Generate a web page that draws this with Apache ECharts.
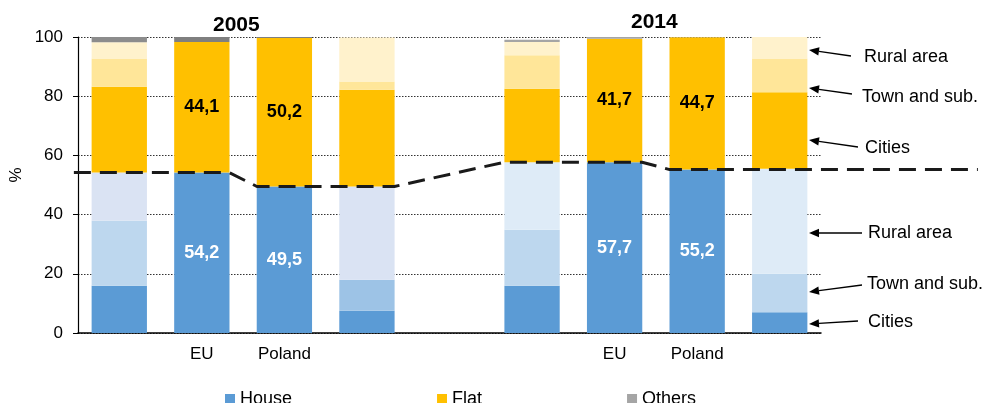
<!DOCTYPE html>
<html lang="en" style="height: 100%">
<head>
  <meta charset="utf-8">
</head>
<body style="height: 100%; margin: 0">
  <div id="container" style="width: 987px; height: 403px"></div>

  <script type="text/javascript" src="https://cdn.jsdelivr.net/npm/echarts@6/dist/echarts.min.js"></script>

  <script type="text/javascript">
    var dom = document.getElementById('container');
    var myChart = echarts.init(dom, null, { renderer: 'canvas' });
    var option;

// bars: EU by urbanisation, EU, Poland, Poland by urbanisation (2005), gap, same for 2014
const categories = ['EU05u', 'EU05', 'PL05', 'PL05u', 'gap', 'EU14u', 'EU14', 'PL14', 'PL14u'];
const tickLabels = ['', 'EU', 'Poland', '', '', '', 'EU', 'Poland', ''];
const labelled = [1, 2, 6, 7];

const houseCities = [16.0, 54.2, 49.5, 7.5, 0, 16.0, 57.7, 55.2, 7.0];
const houseTown = [21.9, 0, 0, 10.5, 0, 18.9, 0, 0, 13.0];
const houseRural = [16.3, 0, 0, 31.5, 0, 22.8, 0, 0, 35.5];
const flatCities = [29.0, 44.1, 50.2, 32.7, 0, 24.8, 41.7, 44.7, 25.8];
const flatTown = [9.5, 0, 0, 2.8, 0, 11.3, 0, 0, 11.4];
const flatRural = [5.5, 0, 0, 14.8, 0, 4.5, 0, 0, 7.3];
const others = [1.8, 1.7, 0.3, 0, 0, 0.8, 0.6, 0.1, 0];

// dashed reference line: house share of EU / Poland, spanning the pair of bars
const houseShare = [54.2, 49.5, 57.7, 55.2];
const houseShareBars = [[0, 1], [2, 3], [5, 6], [7, 8]];

const townColors = ['#BDD7EE', null, null, '#9DC3E6', null, '#BDD7EE', null, null, '#BDD7EE'];
const ruralColors = ['#DAE3F3', null, null, '#DAE3F3', null, '#DEEBF7', null, null, '#DEEBF7'];
const otherColors = ['#8C8C8C', '#7F7F7F', '#7F7F7F', null, null, '#A5A5A5', '#A5A5A5', '#A5A5A5', null];

const FONT = '"Liberation Sans", Arial, sans-serif';
const halfBar = 0.333;

// plot area (px) and the wider strip the dashed line runs through
const GRID = { left: 78, right: 166, top: 37, bottom: 70 };
const catWidth = (987 - GRID.left - GRID.right) / categories.length;
const lineMin = -GRID.left / catWidth - 0.5;
const lineMax = (987 - GRID.left) / catWidth - 0.5;

const fmt = (v) => v.toFixed(1).replace('.', ',');

const withColors = (values, colors) =>
  values.map((v, i) => (colors[i] ? { value: v, itemStyle: { color: colors[i] } } : v));

const withLabels = (values, color) =>
  values.map((v, i) =>
    labelled.indexOf(i) >= 0
      ? {
          value: v,
          label: {
            show: true,
            position: 'inside',
            formatter: (p) => fmt(p.value),
            color: color,
            fontFamily: FONT,
            fontWeight: 'bold',
            fontSize: 18
          }
        }
      : v
  );

const linePoints = [];
houseShareBars.forEach((pair, k) => {
  linePoints.push([pair[0] - halfBar, houseShare[k]]);
  linePoints.push([pair[1] + halfBar, houseShare[k]]);
});
linePoints[0][0] = -0.55;
linePoints[linePoints.length - 1][0] = 10.4;

const arrow = (tail, tip) => {
  const dx = tip[0] - tail[0];
  const dy = tip[1] - tail[1];
  const len = Math.hypot(dx, dy);
  const ux = dx / len, uy = dy / len;
  const L = 10, W = 4.2;
  const bx = tip[0] - ux * L, by = tip[1] - uy * L;
  return [
    {
      type: 'line',
      shape: { x1: tail[0], y1: tail[1], x2: bx, y2: by },
      style: { stroke: '#000', lineWidth: 1.3 }
    },
    {
      type: 'polygon',
      shape: { points: [tip, [bx - uy * W, by + ux * W], [bx + uy * W, by - ux * W]] },
      style: { fill: '#000' }
    }
  ];
};

const notes = [
  { text: 'Rural area', tail: [851, 56], tip: [809, 50], at: [864, 57] },
  { text: 'Town and sub.', tail: [852, 94], tip: [809, 88], at: [862, 97] },
  { text: 'Cities', tail: [858, 147], tip: [809, 140], at: [865, 148] },
  { text: 'Rural area', tail: [862, 233], tip: [809, 233], at: [868, 233] },
  { text: 'Town and sub.', tail: [862, 285], tip: [809, 292], at: [867, 284] },
  { text: 'Cities', tail: [858, 321], tip: [809, 324], at: [868, 322] }
];

const graphics = [
  {
    type: 'text', left: 213, top: 15,
    style: { text: '2005', font: 'bold 21px ' + FONT, fill: '#000' }
  },
  {
    type: 'text', left: 631, top: 12,
    style: { text: '2014', font: 'bold 21px ' + FONT, fill: '#000' }
  },
  {
    type: 'text', x: 16, y: 175, rotation: Math.PI / 2,
    style: { text: '%', font: '17px ' + FONT, fill: '#000', align: 'center', verticalAlign: 'middle' }
  }
];
notes.forEach((n) => {
  arrow(n.tail, n.tip).forEach((g) => graphics.push(g));
  graphics.push({
    type: 'text', x: n.at[0], y: n.at[1],
    style: { text: n.text, font: '18px ' + FONT, fill: '#000', verticalAlign: 'middle' }
  });
});

const barBase = { type: 'bar', stack: 'total', barCategoryGap: '33%' };

option = {
  animation: false,
  backgroundColor: '#fff',
  textStyle: { fontFamily: FONT },
  grid: [
    GRID,
    { left: 0, right: 0, top: GRID.top, bottom: GRID.bottom }
  ],
  legend: {
    data: ['House', 'Flat', 'Others'],
    left: 220,
    top: 385,
    itemWidth: 10,
    itemHeight: 10,
    itemGap: 145,
    icon: 'rect',
    textStyle: { fontFamily: FONT, fontSize: 18, color: '#000' }
  },
  xAxis: [
    {
      type: 'category',
      data: categories,
      axisLine: { lineStyle: { color: '#000', width: 1.5 } },
      axisTick: { show: false },
      axisLabel: {
        formatter: (v, i) => tickLabels[i],
        fontFamily: FONT,
        fontSize: 17,
        color: '#000',
        margin: 13
      }
    },
    { type: 'value', gridIndex: 1, min: lineMin, max: lineMax, show: false }
  ],
  yAxis: [
    {
      type: 'value',
      min: 0,
      max: 100,
      interval: 20,
      axisLine: { show: true, lineStyle: { color: '#000', width: 1.2 } },
      axisTick: { show: true, length: 5, lineStyle: { color: '#000' } },
      axisLabel: { fontFamily: FONT, fontSize: 17, color: '#000', margin: 15 },
      splitLine: { lineStyle: { color: '#333', type: [1.5, 1.5], width: 1 } }
    },
    { type: 'value', gridIndex: 1, min: 0, max: 100, show: false }
  ],
  graphic: graphics,
  series: [
    Object.assign({}, barBase, {
      name: 'House', itemStyle: { color: '#5B9BD5' }, data: withLabels(houseCities, '#fff')
    }),
    Object.assign({}, barBase, {
      name: 'House town', itemStyle: { color: '#BDD7EE' }, data: withColors(houseTown, townColors)
    }),
    Object.assign({}, barBase, {
      name: 'House rural', itemStyle: { color: '#DAE3F3' }, data: withColors(houseRural, ruralColors)
    }),
    Object.assign({}, barBase, {
      name: 'Flat', itemStyle: { color: '#FFC000' }, data: withLabels(flatCities, '#000')
    }),
    Object.assign({}, barBase, {
      name: 'Flat town', itemStyle: { color: '#FFE699' }, data: flatTown
    }),
    Object.assign({}, barBase, {
      name: 'Flat rural', itemStyle: { color: '#FFF2CC' }, data: flatRural
    }),
    Object.assign({}, barBase, {
      name: 'Others', itemStyle: { color: '#A5A5A5' }, data: withColors(others, otherColors)
    }),
    {
      name: 'House share',
      type: 'line',
      xAxisIndex: 1,
      yAxisIndex: 1,
      symbol: 'none',
      z: 5,
      lineStyle: { color: '#1a1a1a', width: 3, type: [17, 9] },
      data: linePoints
    }
  ]
};

    if (option && typeof option === 'object') {
      myChart.setOption(option);
    }

    window.addEventListener('resize', myChart.resize);
  </script>
</body>
</html>
